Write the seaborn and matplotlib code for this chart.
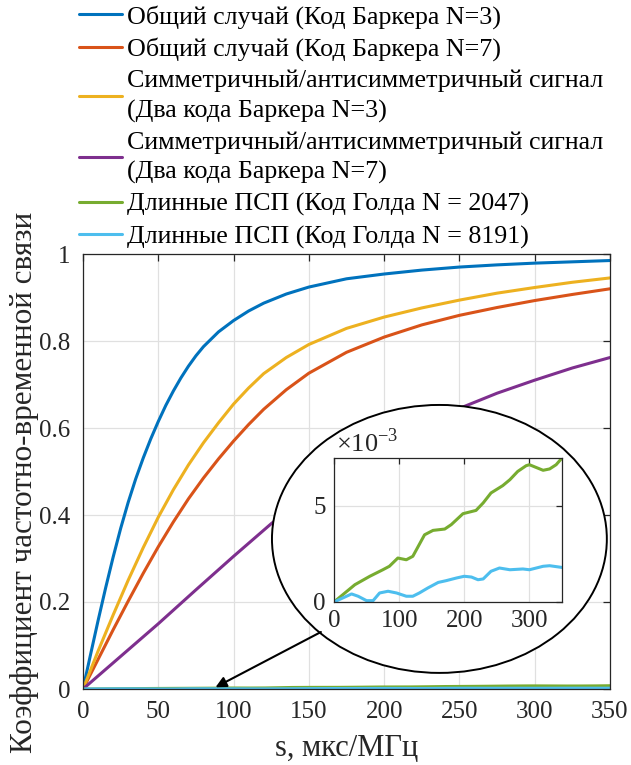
import numpy as np
import pandas as pd
import matplotlib
matplotlib.use("Agg")
import matplotlib.pyplot as plt
import seaborn as sns
from matplotlib.patches import Ellipse
from matplotlib.ticker import FuncFormatter

# ---------------- data ----------------
s_b3 = [0, 5, 10, 15, 20, 25, 30, 35, 40, 45, 50, 55, 60, 65, 70, 75, 80, 90, 100,
        110, 120, 135, 150, 175, 200, 225, 250, 275, 300, 325, 350]
k_b3 = [0, 0.079, 0.157, 0.232, 0.303, 0.369, 0.429, 0.483, 0.531, 0.575, 0.615,
        0.652, 0.685, 0.715, 0.742, 0.766, 0.787, 0.821, 0.847, 0.869, 0.887, 0.908,
        0.924, 0.943, 0.954, 0.963, 0.970, 0.975, 0.979, 0.982, 0.985]

s_b7 = [0, 10, 20, 30, 40, 50, 60, 70, 80, 90, 100, 110, 120, 135, 150, 175, 200,
        225, 250, 275, 300, 325, 350]
k_b7 = [0, 0.068, 0.136, 0.202, 0.266, 0.327, 0.384, 0.437, 0.485, 0.529, 0.570,
        0.608, 0.643, 0.688, 0.726, 0.774, 0.809, 0.837, 0.859, 0.877, 0.893, 0.907,
        0.920]

s_sym3 = [0, 10, 20, 30, 40, 50, 60, 70, 80, 90, 100, 110, 120, 135, 150, 175, 200,
          225, 250, 275, 300, 325, 350]
k_sym3 = [0, 0.087, 0.170, 0.250, 0.325, 0.395, 0.458, 0.515, 0.566, 0.612, 0.655,
          0.692, 0.725, 0.762, 0.792, 0.829, 0.855, 0.876, 0.894, 0.910, 0.923, 0.935,
          0.945]

s_sym7 = [0, 25, 50, 75, 100, 125, 150, 175, 200, 225, 250, 275, 300, 325, 350]
k_sym7 = [0, 0.075, 0.150, 0.228, 0.305, 0.380, 0.448, 0.508, 0.560, 0.605, 0.645,
          0.680, 0.710, 0.738, 0.762]

s_gold = [0, 32, 55, 75, 85, 98, 111, 121, 139, 152, 170, 180, 198, 218, 229, 241,
          259, 270, 282, 295, 300, 321, 331, 341, 350]
k_gold2047_milli = [0, 0.90, 1.34, 1.68, 1.86, 2.29, 2.2, 2.38, 3.5, 3.73, 3.80, 4.03,
                    4.6, 4.77, 5.16, 5.68, 6.06, 6.37, 6.8, 7.1, 7.15, 6.86, 6.93, 7.15,
                    7.5]

s_gold2 = [0, 27, 37, 50, 60, 70, 83, 96, 111, 121, 131, 144, 160, 172, 188, 200, 211,
           221, 229, 241, 254, 270, 290, 300, 321, 331, 350]
k_gold8191_milli = [0, 0.42, 0.30, 0.07, 0.07, 0.47, 0.56, 0.47, 0.30, 0.30, 0.47, 0.73,
                    1.02, 1.11, 1.25, 1.34, 1.30, 1.16, 1.2, 1.6, 1.77, 1.68, 1.72, 1.68,
                    1.86, 1.89, 1.8]

labels = [
    "Общий случай (Код Баркера N=3)",
    "Общий случай (Код Баркера N=7)",
    "Симметричный/антисимметричный сигнал\n(Два кода Баркера N=3)",
    "Симметричный/антисимметричный сигнал\n(Два кода Баркера N=7)",
    "Длинные ПСП (Код Голда N = 2047)",
    "Длинные ПСП (Код Голда N = 8191)",
]
colors = ["#0072BD", "#D95319", "#EDB120", "#7E2F8E", "#77AC30", "#4DBEEE"]

xticks_main = [0, 50, 100, 150, 200, 250, 300, 350]
yticks_main = [0, 0.2, 0.4, 0.6, 0.8, 1.0]
xticks_in = [0, 100, 200, 300]
yticks_in = [0, 5]

# ---------------- style ----------------
sns.set_style("white")
plt.rcParams["font.family"] = ["Liberation Serif", "DejaVu Serif"]
plt.rcParams["mathtext.fontset"] = "custom"
plt.rcParams["mathtext.rm"] = "Liberation Serif"
FS_TICK = 18
FS_LABEL = 22
FS_LEG = 18.7
TXT = "#262626"
GRID = "#e0e0e0"
LW = 2.2

W, H = 631, 765
fig = plt.figure(figsize=(W / 100, H / 100), dpi=100)
ax = fig.add_axes([83 / W, (H - 689) / H, 527 / W, 435 / H])

series = [
    (s_b3, k_b3),
    (s_b7, k_b7),
    (s_sym3, k_sym3),
    (s_sym7, k_sym7),
    (s_gold, [v * 1e-3 for v in k_gold2047_milli]),
    (s_gold2, [v * 1e-3 for v in k_gold8191_milli]),
]
handles = []
for (xs, ys), c in zip(series, colors):
    df = pd.DataFrame({"s": xs, "k": ys})
    sns.lineplot(data=df, x="s", y="k", color=c, linewidth=LW, ax=ax,
                 legend=False, estimator=None, sort=False)
    handles.append(ax.get_lines()[-1])

ax.set_xlim(0, 350)
ax.set_ylim(0, 1)
ax.set_xticks(xticks_main)
ax.set_yticks(yticks_main)
ax.yaxis.set_major_formatter(FuncFormatter(lambda v, p: f"{v:g}"))
ax.grid(True, color=GRID, linewidth=0.9)
ax.set_axisbelow(True)
for sp in ax.spines.values():
    sp.set_color(TXT)
    sp.set_linewidth(0.9)
ax.tick_params(direction="in", length=5, width=0.9, top=True, right=True,
               labelsize=FS_TICK, colors=TXT, pad=9)
ax.set_xlabel("s, мкс/МГц", fontsize=FS_LABEL, color=TXT)
ax.set_ylabel("Коэффициент частотно-временной связи", fontsize=FS_LABEL + 0.4, color=TXT)
ax.yaxis.set_label_coords(-0.083, 0.476)
ax.xaxis.set_label_coords(0.5, -0.103)

# magnifier ellipse + arrow
ell = Ellipse((236.7, 0.345), 222.4, 0.616, facecolor="white", edgecolor="black",
              linewidth=1.4, zorder=4)
ax.add_patch(ell)
ax.annotate("", xy=(88, 0.004), xytext=(158, 0.131),
            arrowprops=dict(arrowstyle="-|>", color="black", lw=1.5,
                            mutation_scale=16, shrinkA=0, shrinkB=0),
            zorder=5)

# inset
axi = fig.add_axes([334 / W, (H - 602) / H, 228 / W, 144 / H])
axi.set_zorder(6)
for (xs, ys), c in zip([(s_gold, k_gold2047_milli), (s_gold2, k_gold8191_milli)],
                       colors[4:]):
    dfi = pd.DataFrame({"s": xs, "k": ys})
    sns.lineplot(data=dfi, x="s", y="k", color=c, linewidth=LW, ax=axi,
                 legend=False, estimator=None, sort=False)
axi.set_xlim(0, 350)
axi.set_ylim(0, 7.5)
axi.set_xticks(xticks_in)
axi.set_yticks(yticks_in)
axi.grid(True, color=GRID, linewidth=0.9)
axi.set_axisbelow(True)
axi.set_xlabel("")
axi.set_ylabel("")
for sp in axi.spines.values():
    sp.set_color(TXT)
    sp.set_linewidth(0.9)
axi.tick_params(direction="in", length=4, width=0.9, top=True, right=True,
                labelsize=FS_TICK, colors=TXT, pad=6)
axi.text(0.01, 1.045, "×10$^{\\mathregular{-3}}$", transform=axi.transAxes,
         fontsize=FS_TICK + 1, color=TXT, ha="left", va="baseline")

# legend
leg = fig.legend(handles, labels, loc="upper left",
                 bbox_to_anchor=(79 / W, 1 - 5 / H), bbox_transform=fig.transFigure,
                 frameon=False, fontsize=FS_LEG, handlelength=1.65, handletextpad=0.2,
                 labelspacing=0.33, borderpad=0, borderaxespad=0,
                 labelcolor="black")
for t in leg.get_texts():
    t.set_linespacing(1.41)

fig.savefig("out.png", dpi=100)
